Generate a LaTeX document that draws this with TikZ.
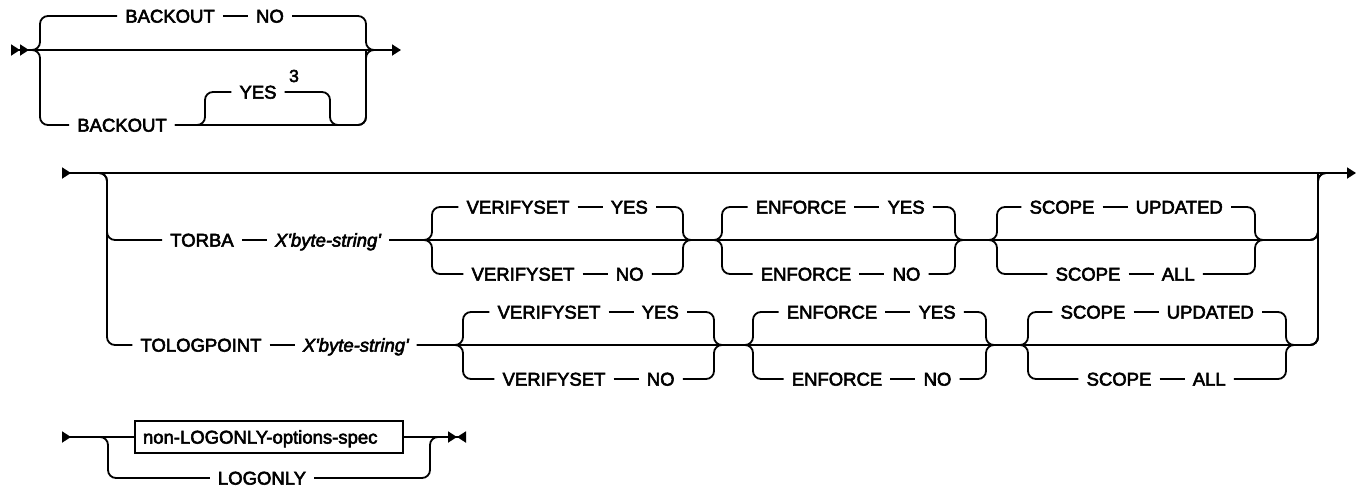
\documentclass[tikz,border=0pt]{standalone}
\usepackage{fontspec}
\setmainfont{Liberation Sans}[FakeBold=3]
\usepackage{tikz}
\usetikzlibrary{arrows.meta,positioning}

\begin{document}
\begin{tikzpicture}[x=1pt,y=-1pt,node distance=25pt,
  rail/.style={line width=1.8pt,rounded corners=8pt},
  kw/.style={font=\fontsize{18.5}{22}\selectfont,inner xsep=8pt,inner ysep=2pt,text height=13.2pt,text depth=0pt},
  var/.style={kw,font=\fontsize{18.5}{22}\selectfont\itshape},
  supnum/.style={font=\fontsize{17.5}{20}\selectfont,inner sep=0pt},
  specbox/.style={kw,draw,line width=1.8pt,text width=252pt,align=left,minimum height=32pt}]
  \useasboundingbox (0,0) rectangle (1359,490);

  % BACKOUT choice
  \coordinate (t0) at (11,50);
  \coordinate (ta) at (29,50);
  \coordinate (t1) at (401,50);
  \coordinate (tb) at (385,50);
  \coordinate (tlt) at (40,16);
  \coordinate (tlb) at (40,125);
  \coordinate (ylt) at (205,92);
  \coordinate (yr) at (330,125);
  \coordinate (tr) at (366,50);
  \node[kw] (bk1) at (170,16) {BACKOUT};
  \node[kw,right=of bk1] (no1) {NO};
  \node[kw] (bk2) at (122,125) {BACKOUT};
  \node[kw] (yes) at (258,92) {YES};
  \node[supnum] (n3) at (294,76) {3};
  \draw[rail,{Triangle[reversed,width=11pt,length=9pt]Triangle[reversed,width=11pt,length=9pt]}-{Triangle[width=11pt,length=9pt]}] (t0) -- (t1);
  \draw[rail] (ta) -| (tlt) -- (bk1);
  \draw[rail] (bk1) -- (no1);
  \draw[rail] (no1) -| (tr) -- (tb);
  \draw[rail] (ta) -| (tlb) -- (bk2);
  \draw[rail] (bk2) -| (tr) -- (tb);
  \draw[rail] (bk2) -| (ylt) -- (yes);
  \draw[rail] (yes) -| (yr) -| (tr);

  % TORBA / TOLOGPOINT rows
  \coordinate (m0) at (62,173);
  \coordinate (ma) at (72,173);
  \coordinate (m1) at (1356,173);
  \coordinate (mb) at (1338,173);
  \coordinate (j0) at (1318,173);
  \draw[rail,{Triangle[reversed,width=11pt,length=9pt]}-{Triangle[width=11pt,length=9pt]}] (m0) -- (m1);
  \foreach \b/\c/\dx/\kx/\key in {1/240/0/202/TORBA, 2/345/31/201/TOLOGPOINT} {
    \coordinate (d\b) at (107,\c);
    \coordinate (va\b) at (432+\dx,\c-33);
    \coordinate (vb\b) at (432+\dx,\c+34);
    \coordinate (vr\b) at (683+\dx,\c);
    \coordinate (el\b) at (722+\dx,\c);
    \coordinate (ea\b) at (722+\dx,\c-33);
    \coordinate (eb\b) at (722+\dx,\c+34);
    \coordinate (er\b) at (955+\dx,\c);
    \coordinate (sl\b) at (997+\dx,\c);
    \coordinate (sa\b) at (997+\dx,\c-33);
    \coordinate (sb\b) at (997+\dx,\c+34);
    \coordinate (sr\b) at (1255+\dx,\c);
    \node[kw] (kw\b) at (\kx,\c) {\key};
    \node[var,right=of kw\b] (xb\b) {X\textquotesingle byte-string\textquotesingle};
    \node[kw] (vy\b) at (518+\dx,\c-33) {VERIFYSET};
    \node[kw,right=of vy\b] (vyv\b) {YES};
    \node[kw] (vn\b) at (523+\dx,\c+34) {VERIFYSET};
    \node[kw,right=of vn\b] (vnv\b) {NO};
    \node[kw] (ey\b) at (801+\dx,\c-33) {ENFORCE};
    \node[kw,right=of ey\b] (eyv\b) {YES};
    \node[kw] (en\b) at (806+\dx,\c+34) {ENFORCE};
    \node[kw,right=of en\b] (env\b) {NO};
    \node[kw] (sy\b) at (1062+\dx,\c-33) {SCOPE};
    \node[kw,right=of sy\b] (syv\b) {UPDATED};
    \node[kw] (sn\b) at (1088+\dx,\c+34) {SCOPE};
    \node[kw,right=of sn\b] (snv\b) {ALL};
    \draw[rail] (ma) -| (d\b) -- (kw\b);
    \draw[rail] (kw\b) -- (xb\b);
    \draw[rail] (xb\b) -- (sr\b) -| (j0) -- (mb);
    \draw[rail] (xb\b) -| (va\b) -- (vy\b);
    \draw[rail] (xb\b) -| (vb\b) -- (vn\b);
    \draw[rail] (vy\b) -- (vyv\b);
    \draw[rail] (vn\b) -- (vnv\b);
    \draw[rail] (vyv\b) -| (vr\b) -- (el\b);
    \draw[rail] (vnv\b) -| (vr\b) -- (el\b);
    \draw[rail] (vr\b) -| (ea\b) -- (ey\b);
    \draw[rail] (vr\b) -| (eb\b) -- (en\b);
    \draw[rail] (ey\b) -- (eyv\b);
    \draw[rail] (en\b) -- (env\b);
    \draw[rail] (eyv\b) -| (er\b) -- (sl\b);
    \draw[rail] (env\b) -| (er\b) -- (sl\b);
    \draw[rail] (er\b) -| (sa\b) -- (sy\b);
    \draw[rail] (er\b) -| (sb\b) -- (sn\b);
    \draw[rail] (sy\b) -- (syv\b);
    \draw[rail] (sn\b) -- (snv\b);
    \draw[rail] (syv\b) -| (sr\b) -| (j0);
    \draw[rail] (snv\b) -| (sr\b) -| (j0);
  }

  % LOGONLY choice
  \coordinate (b0) at (62,437);
  \coordinate (ba) at (72,437);
  \coordinate (bl) at (108,478);
  \coordinate (bj) at (430,437);
  \coordinate (bk) at (442,437);
  \coordinate (b1) at (466,437);
  \node[specbox] (spec) at (269,437) {non-LOGONLY-options-spec};
  \node[kw] (logonly) at (262,478) {LOGONLY};
  \draw[rail,{Triangle[reversed,width=11pt,length=9pt]}-] (b0) -- (spec);
  \draw[rail,-{Triangle[width=11pt,length=9pt]Triangle[reversed,width=11pt,length=9pt]}] (spec) -- (b1);
  \draw[rail] (ba) -| (bl) -- (logonly);
  \draw[rail] (logonly) -| (bj) -- (bk);
\end{tikzpicture}
\end{document}
